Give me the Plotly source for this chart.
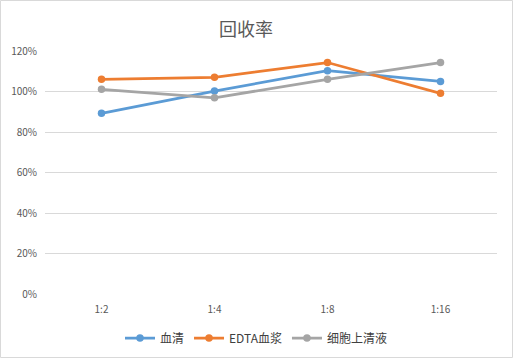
import plotly.graph_objects as go

categories = ["1:2", "1:4", "1:8", "1:16"]
serum = [89.2, 100.2, 110.3, 105.0]
edta = [106.0, 107.0, 114.3, 99.1]
cell = [101.1, 96.9, 106.0, 114.3]
names = ["血清", "EDTA血浆", "细胞上清液"]
colors = ["#5B9BD5", "#ED7D31", "#A5A5A5"]
y_ticks = [0, 20, 40, 60, 80, 100, 120]

fig = go.Figure()
for name, vals, c in zip(names, [serum, edta, cell], colors):
    fig.add_trace(go.Scatter(
        x=categories, y=vals, name=name, mode="lines+markers",
        line=dict(color=c, width=2.75), marker=dict(color=c, size=7.5),
    ))

W, H = 513, 358
l, r, t, b = 45, 16, 51, 64
pw, ph = W - l - r, H - t - b

fig.update_layout(
    width=W, height=H,
    margin=dict(l=l, r=r, t=t, b=b, autoexpand=False),
    paper_bgcolor="white", plot_bgcolor="white",
    font=dict(family="Noto Sans CJK SC, Liberation Sans, sans-serif", color="#595959", size=10),
    title=dict(text="回收率", x=246 / W, xanchor="center", y=1 - 30 / H, yanchor="middle",
               font=dict(size=18, color="#595959", family="Noto Sans CJK SC")),
    showlegend=True,
    legend=dict(orientation="h", xref="container", yref="container",
                x=256 / W, xanchor="center", y=1 - 338 / H, yanchor="middle",
                font=dict(size=12, color="#404040"), itemwidth=30, tracegroupgap=0),
    xaxis=dict(type="category", range=[-0.5, 3.5], showgrid=False, showline=False, ticks="",
               tickfont=dict(size=10, color="#595959"), ticklabelstandoff=8),
    yaxis=dict(range=[0, 120], tickvals=y_ticks, ticktext=[f"{v}%" for v in y_ticks],
               showgrid=True, gridcolor="#D9D9D9", gridwidth=1, zeroline=False, showline=False,
               tickfont=dict(size=10, color="#595959"), ticklabelstandoff=7),
    shapes=[dict(type="rect", xref="paper", yref="paper",
                 x0=-(l - 0.5) / pw, x1=(W - l - 0.5) / pw,
                 y0=-(b - 0.5) / ph, y1=(H - b - 0.5) / ph,
                 line=dict(color="#D9D9D9", width=1), fillcolor="rgba(0,0,0,0)", layer="below")],
)

fig.write_html("out.html", config={"displayModeBar": False},
               post_script="document.body.style.margin='0';document.body.style.overflow='hidden';")
